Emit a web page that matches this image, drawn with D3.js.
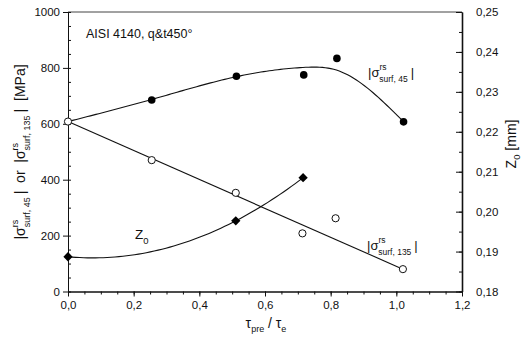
<!DOCTYPE html>
<html>
<head>
<meta charset="utf-8">
<script src="https://cdn.jsdelivr.net/npm/d3@7"></script>
<style>
  body { margin: 0; background: #fff; }
  svg { display: block; }
  text { font-family: "Liberation Sans", Arial, sans-serif; fill: #111; }
</style>
</head>
<body>
<svg id="chart" width="527" height="346"></svg>
<script>
// Residual stress magnitude at 45° and 135° vs. torsional pre-strain ratio, plus z0
const ratio45 = [0, 0.255, 0.513, 0.718, 0.819, 1.022];
const sigma45 = [608, 685, 770, 775, 834, 607];
const ratio135 = [0, 0.255, 0.511, 0.714, 0.815, 1.02];
const sigma135 = [608, 470, 353, 208, 262, 80];
const ratioZ0 = [0, 0.511, 0.716];
const z0 = [0.1887, 0.1977, 0.2085];

const xTickValues = [0, 0.2, 0.4, 0.6, 0.8, 1.0, 1.2];
const xTickLabels = ["0,0", "0,2", "0,4", "0,6", "0,8", "1,0", "1,2"];
const yTickValues = [0, 200, 400, 600, 800, 1000];
const zTickValues = [0.18, 0.19, 0.20, 0.21, 0.22, 0.23, 0.24, 0.25];
const zTickLabels = ["0,18", "0,19", "0,20", "0,21", "0,22", "0,23", "0,24", "0,25"];

const svg = d3.select("#chart");
const plotLeft = 68, plotRight = 462, plotTop = 12, plotBottom = 291.5;

const x = d3.scaleLinear().domain([0, 1.2]).range([plotLeft, plotRight]);
const y = d3.scaleLinear().domain([0, 1000]).range([plotBottom, plotTop]);
const z = d3.scaleLinear().domain([0.18, 0.25]).range([plotBottom, plotTop]);

// ---- curve helpers ----
function solve(A, b) {
  const n = b.length, M = A.map((r, i) => [...r, b[i]]);
  for (let p = 0; p < n; p++) {
    let m = p;
    for (let r = p + 1; r < n; r++) if (Math.abs(M[r][p]) > Math.abs(M[m][p])) m = r;
    [M[p], M[m]] = [M[m], M[p]];
    for (let r = 0; r < n; r++) {
      if (r === p) continue;
      const f = M[r][p] / M[p][p];
      for (let c = p; c <= n; c++) M[r][c] -= f * M[p][c];
    }
  }
  return M.map((r, i) => r[n] / r[i]);
}

// weighted cubic smoothing spline (Reinsch); invW = per-point inverse weights
function smoothingSpline(xs, ys, alpha, invW) {
  const n = xs.length, m = n - 2;
  const h = d3.range(n - 1).map(i => xs[i + 1] - xs[i]);
  const Q = Array.from({length: n}, () => new Array(m).fill(0));
  const R = Array.from({length: m}, () => new Array(m).fill(0));
  for (let j = 0; j < m; j++) {
    const i = j + 1;
    Q[i - 1][j] = 1 / h[i - 1];
    Q[i][j] = -1 / h[i - 1] - 1 / h[i];
    Q[i + 1][j] = 1 / h[i];
    R[j][j] = (h[i - 1] + h[i]) / 3;
    if (j + 1 < m) { R[j][j + 1] = h[i] / 6; R[j + 1][j] = h[i] / 6; }
  }
  const A = R.map((row, a) => row.map((v, b) => v + alpha * d3.sum(Q, (q, k) => q[a] * invW[k] * q[b])));
  const rhs = d3.range(m).map(a => d3.sum(Q, (q, k) => q[a] * ys[k]));
  const gi = solve(A, rhs);
  const gamma = [0, ...gi, 0];
  const g = ys.map((yk, k) => yk - alpha * invW[k] * d3.sum(gi, (gv, a) => Q[k][a] * gv));
  return t => {
    const i = Math.min(n - 2, Math.max(0, d3.bisectRight(xs, t) - 1));
    const a = t - xs[i], b = xs[i + 1] - t, hi = h[i];
    return (a * g[i + 1] + b * g[i]) / hi - a * b / 6 * ((1 + a / hi) * gamma[i + 1] + (1 + b / hi) * gamma[i]);
  };
}

// quadratic through three points (Lagrange form)
function quadThrough(xs, ys) {
  return t => ys.reduce((s, yi, i) => {
    let l = 1;
    xs.forEach((xj, j) => { if (j !== i) l *= (t - xj) / (xs[i] - xj); });
    return s + yi * l;
  }, 0);
}

function sample(f, x0, x1, steps) {
  return d3.range(steps + 1).map(i => { const t = x0 + (x1 - x0) * i / steps; return [t, f(t)]; });
}

// ---- axes ----
const axisStyle = g => {
  g.selectAll("path.domain").attr("stroke", "#111").attr("stroke-width", 1);
  g.selectAll(".tick line").attr("stroke", "#111");
  g.selectAll("text").attr("font-size", 11.5).attr("fill", "#111")
    .attr("font-family", "\"Liberation Sans\", Arial, sans-serif");
};

// top frame line
svg.append("line").attr("x1", plotLeft).attr("x2", plotRight).attr("y1", plotTop).attr("y2", plotTop)
  .attr("stroke", "#444").attr("stroke-width", 1);

// bottom axis
svg.append("g").attr("transform", `translate(0,${plotBottom})`)
  .call(d3.axisBottom(x).tickValues(d3.range(0, 1.2001, 0.05)).tickSize(3).tickFormat("").tickSizeOuter(0))
  .call(axisStyle);
svg.append("g").attr("transform", `translate(0,${plotBottom})`)
  .call(d3.axisBottom(x).tickValues(xTickValues).tickSize(5).tickPadding(4).tickSizeOuter(0)
    .tickFormat((d, i) => xTickLabels[i]))
  .call(axisStyle);

// left axis
svg.append("g").attr("transform", `translate(${plotLeft},0)`)
  .call(d3.axisLeft(y).tickValues(d3.range(0, 1001, 50)).tickSize(-3).tickFormat("").tickSizeOuter(0))
  .call(axisStyle);
svg.append("g").attr("transform", `translate(${plotLeft},0)`)
  .call(d3.axisLeft(y).tickValues(yTickValues).tickSize(5).tickPadding(3).tickSizeOuter(0).tickFormat(d => String(d)))
  .call(axisStyle);

// right axis (z0)
svg.append("g").attr("transform", `translate(${plotRight},0)`)
  .call(d3.axisRight(z).tickValues(d3.range(0.18, 0.2501, 0.005)).tickSize(-3).tickFormat("").tickSizeOuter(0))
  .call(axisStyle);
const zAxis = svg.append("g").attr("transform", `translate(${plotRight},0)`)
  .call(d3.axisRight(z).tickValues(zTickValues).tickSize(-6).tickPadding(14).tickSizeOuter(0)
    .tickFormat((d, i) => zTickLabels[i]))
  .call(axisStyle);
zAxis.selectAll("path.domain").attr("stroke-width", 1.6);

// ---- curves ----
// smoothing spline for the 45° measurements, end points held
const fit45 = smoothingSpline(ratio45, sigma45, 0.0004, [0.02, 1, 1, 1, 1, 0.02]);
svg.append("path").datum(sample(fit45, ratio45[0], ratio45[ratio45.length - 1], 120))
  .attr("d", d3.line().x(d => x(d[0])).y(d => y(d[1])))
  .attr("fill", "none").attr("stroke", "#111").attr("stroke-width", 1.1);

// straight line for the 135° measurements
const end135 = [[ratio135[0], sigma135[0]], [ratio135[ratio135.length - 1], sigma135[sigma135.length - 1]]];
svg.append("path").datum(end135)
  .attr("d", d3.line().x(d => x(d[0])).y(d => y(d[1])))
  .attr("fill", "none").attr("stroke", "#111").attr("stroke-width", 1.1);

// quadratic through the z0 points
const fitZ = quadThrough(ratioZ0, z0);
svg.append("path").datum(sample(fitZ, 0, ratioZ0[ratioZ0.length - 1], 60))
  .attr("d", d3.line().x(d => x(d[0])).y(d => z(d[1])))
  .attr("fill", "none").attr("stroke", "#111").attr("stroke-width", 1.1);

// ---- markers ----
svg.append("g").selectAll("circle").data(ratio45.map((r, i) => [r, sigma45[i]]).slice(1)).join("circle")
  .attr("cx", d => x(d[0])).attr("cy", d => y(d[1])).attr("r", 3.8).attr("fill", "#000");

svg.append("g").selectAll("circle").data(ratio135.map((r, i) => [r, sigma135[i]])).join("circle")
  .attr("cx", d => x(d[0])).attr("cy", d => y(d[1])).attr("r", 3.6)
  .attr("fill", "#fff").attr("stroke", "#111").attr("stroke-width", 1);

const diamond = d3.symbol().type(d3.symbolDiamond2).size(55);
svg.append("g").selectAll("path").data(ratioZ0.map((r, i) => [r, z0[i]])).join("path")
  .attr("d", diamond).attr("transform", d => `translate(${x(d[0])},${z(d[1])})`).attr("fill", "#000");

// ---- labels ----
function sigmaLabel(t, sub, big, small) {
  t.append("tspan").text("|σ").attr("font-size", big);
  t.append("tspan").text("rs").attr("font-size", small).attr("dy", -big * 0.55);
  t.append("tspan").text(sub).attr("font-size", small).attr("dx", -small * 0.85).attr("dy", big * 0.95);
  t.append("tspan").text("|").attr("font-size", big).attr("dx", 3).attr("dy", -big * 0.4);
}

const t45 = svg.append("text").attr("x", 368).attr("y", 77);
sigmaLabel(t45, "surf, 45", 13, 8.5);
const t135 = svg.append("text").attr("x", 367).attr("y", 250);
sigmaLabel(t135, "surf, 135", 13, 8.5);

const tz = svg.append("text").attr("x", 135).attr("y", 239);
tz.append("tspan").text("Z").attr("font-size", 13.5);
tz.append("tspan").text("0").attr("font-size", 9.5).attr("dy", 5);

svg.append("text").attr("x", 86).attr("y", 38).attr("font-size", 12.5).text("AISI 4140, q&t450°");

// axis titles
const ty = svg.append("text").attr("transform", "translate(25,152) rotate(-90)").attr("text-anchor", "middle");
{
  const big = 14, small = 9;
  ty.append("tspan").text("|σ").attr("font-size", big);
  ty.append("tspan").text("rs").attr("font-size", small).attr("dy", -7);
  ty.append("tspan").text("surf, 45").attr("font-size", small).attr("dx", -7.5).attr("dy", 12);
  ty.append("tspan").text("|  or  |σ").attr("font-size", big).attr("dx", 3).attr("dy", -5).attr("xml:space", "preserve");
  ty.append("tspan").text("rs").attr("font-size", small).attr("dy", -7);
  ty.append("tspan").text("surf, 135").attr("font-size", small).attr("dx", -7.5).attr("dy", 12);
  ty.append("tspan").text("|  [MPa]").attr("font-size", big).attr("dx", 3).attr("dy", -5).attr("xml:space", "preserve");
}

const tr = svg.append("text").attr("transform", "translate(516,144) rotate(-90)").attr("text-anchor", "middle");
tr.append("tspan").text("Z").attr("font-size", 14);
tr.append("tspan").text("0").attr("font-size", 9.5).attr("dy", 4);
tr.append("tspan").text(" [mm]").attr("font-size", 14).attr("dy", -4).attr("xml:space", "preserve");

const tx = svg.append("text").attr("x", 266).attr("y", 328).attr("text-anchor", "middle");
tx.append("tspan").text("τ").attr("font-size", 14);
tx.append("tspan").text("pre").attr("font-size", 9).attr("dy", 4);
tx.append("tspan").text(" / τ").attr("font-size", 14).attr("dy", -4).attr("xml:space", "preserve");
tx.append("tspan").text("e").attr("font-size", 9).attr("dy", 4);
</script>
</body>
</html>
